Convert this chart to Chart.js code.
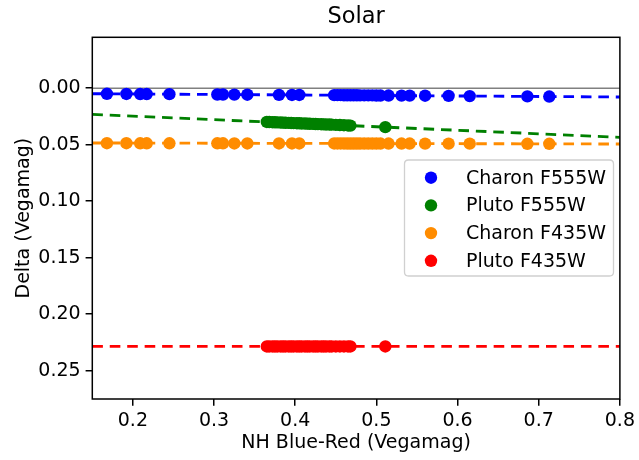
<!DOCTYPE html>
<html>
<head>
<meta charset="utf-8">
<script src="https://cdn.jsdelivr.net/npm/chart.js@4.4.0/dist/chart.umd.min.js"></script>
<style>
  html, body { margin: 0; padding: 0; background: #fff; }
  #wrap { width: 639px; height: 460px; position: relative; }
</style>
</head>
<body>
<div id="wrap"><canvas id="c" width="639" height="460"></canvas></div>
<script>
// ---- data ----
const chartTitle = "Solar";
const xLabel = "NH Blue-Red (Vegamag)";
const yLabel = "Delta (Vegamag)";
const xTicks = [0.2, 0.3, 0.4, 0.5, 0.6, 0.7, 0.8];
const yTicks = [0.00, 0.05, 0.10, 0.15, 0.20, 0.25];
const xRange = [0.15, 0.8];
const yRange = [-0.045, 0.275];

const seriesNames = ["Charon F555W", "Pluto F555W", "Charon F435W", "Pluto F435W"];
const seriesColors = ["#0000ff", "#008000", "#ff8c00", "#ff0000"];

const charonX = [0.168, 0.192, 0.209, 0.217, 0.245, 0.304, 0.311, 0.325, 0.341, 0.380, 0.396, 0.405,
  0.448, 0.452, 0.456, 0.460, 0.464, 0.468, 0.472, 0.476, 0.480, 0.485, 0.490, 0.495, 0.500, 0.505,
  0.515, 0.531, 0.541, 0.560, 0.589, 0.615, 0.686, 0.713];
const charonF555W = [0.0050, 0.0051, 0.0052, 0.0052, 0.0053, 0.0056, 0.0056, 0.0057, 0.0058, 0.0059, 0.0060, 0.0060,
  0.0062, 0.0062, 0.0062, 0.0063, 0.0063, 0.0063, 0.0063, 0.0063, 0.0064, 0.0064, 0.0064, 0.0064, 0.0065, 0.0065,
  0.0065, 0.0066, 0.0066, 0.0067, 0.0068, 0.0070, 0.0073, 0.0074];
const charonF435W = [0.0487, 0.0487, 0.0488, 0.0488, 0.0488, 0.0488, 0.0488, 0.0489, 0.0489, 0.0489, 0.0489, 0.0489,
  0.0489, 0.0489, 0.0489, 0.0489, 0.0490, 0.0490, 0.0490, 0.0490, 0.0490, 0.0490, 0.0490, 0.0490, 0.0490, 0.0490,
  0.0490, 0.0490, 0.0490, 0.0491, 0.0491, 0.0491, 0.0492, 0.0492];

const plutoX = [0.365, 0.368, 0.372, 0.375, 0.378, 0.382, 0.385, 0.388, 0.392, 0.395, 0.398, 0.402, 0.405,
  0.408, 0.412, 0.415, 0.418, 0.422, 0.425, 0.428, 0.432, 0.435, 0.438, 0.442, 0.445, 0.450, 0.455, 0.460,
  0.465, 0.468, 0.511];
const plutoF555W = [0.0299, 0.0300, 0.0301, 0.0302, 0.0303, 0.0304, 0.0305, 0.0306, 0.0307, 0.0308, 0.0309,
  0.0310, 0.0311, 0.0312, 0.0313, 0.0314, 0.0315, 0.0316, 0.0317, 0.0318, 0.0319, 0.0320, 0.0321, 0.0322,
  0.0323, 0.0325, 0.0326, 0.0328, 0.0330, 0.0331, 0.0345];
const plutoF435W = [0.2285, 0.2285, 0.2285, 0.2285, 0.2285, 0.2285, 0.2285, 0.2285, 0.2285, 0.2285, 0.2285,
  0.2285, 0.2285, 0.2285, 0.2285, 0.2285, 0.2285, 0.2285, 0.2285, 0.2285, 0.2285, 0.2285, 0.2285, 0.2285,
  0.2285, 0.2285, 0.2285, 0.2285, 0.2285, 0.2285, 0.2285];

// dashed fit lines (values at the two ends of the x range)
const fitX = [0.15, 0.8];
const charonF555Fit = [0.0049, 0.0078];
const plutoF555Fit = [0.0232, 0.0435];
const charonF435Fit = [0.0485, 0.0494];
const plutoF435Fit = [0.2285, 0.2285];
const zeroLine = [0.0, 0.0];

// ---- build ----
const zip = (xs, ys) => xs.map((x, i) => ({ x: x, y: ys[i] }));
const FONT = "'DejaVu Sans', sans-serif";
const pts = [zip(charonX, charonF555W), zip(plutoX, plutoF555W), zip(charonX, charonF435W), zip(plutoX, plutoF435W)];
const fits = [charonF555Fit, plutoF555Fit, charonF435Fit, plutoF435Fit];
const MR = 6.2;

const datasets = [];
datasets.push({
  type: 'line', label: '_zero', data: zip(fitX, zeroLine),
  borderColor: '#808080', borderWidth: 1.5, pointRadius: 0, order: 10, isLegend: false
});
for (let i = 0; i < 4; i++) {
  datasets.push({
    type: 'scatter', label: seriesNames[i], data: pts[i],
    backgroundColor: seriesColors[i], borderColor: seriesColors[i], borderWidth: 0,
    pointRadius: MR, pointHoverRadius: MR, order: 9 - i * 2, isLegend: true
  });
}
for (let i = 0; i < 4; i++) {
  datasets.push({
    type: 'line', label: '_fit' + i, data: zip(fitX, fits[i]),
    borderColor: seriesColors[i], borderWidth: 2.85, borderDash: [10.6, 6.85],
    pointRadius: 0, order: 8 - i * 2, isLegend: false
  });
}

const framePlugin = {
  id: 'frame',
  afterDraw(chart) {
    const { ctx, chartArea: a } = chart;
    ctx.save();
    // frame
    ctx.strokeStyle = '#000';
    ctx.lineWidth = 1.5;
    ctx.strokeRect(a.left, a.top, a.right - a.left, a.bottom - a.top);
    // title
    ctx.fillStyle = '#000';
    ctx.font = '22.5px ' + FONT;
    ctx.textAlign = 'center';
    ctx.textBaseline = 'middle';
    ctx.fillText(chartTitle, (a.left + a.right) / 2, 17.5);
    // legend
    const lx = 404.5, ly = 160, lw = 209, lh = 116, r = 4;
    ctx.beginPath();
    ctx.moveTo(lx + r, ly);
    ctx.lineTo(lx + lw - r, ly); ctx.quadraticCurveTo(lx + lw, ly, lx + lw, ly + r);
    ctx.lineTo(lx + lw, ly + lh - r); ctx.quadraticCurveTo(lx + lw, ly + lh, lx + lw - r, ly + lh);
    ctx.lineTo(lx + r, ly + lh); ctx.quadraticCurveTo(lx, ly + lh, lx, ly + lh - r);
    ctx.lineTo(lx, ly + r); ctx.quadraticCurveTo(lx, ly, lx + r, ly);
    ctx.closePath();
    ctx.fillStyle = 'rgba(255,255,255,0.8)';
    ctx.fill();
    ctx.strokeStyle = '#d0d0d0';
    ctx.lineWidth = 1.3;
    ctx.stroke();
    ctx.font = '19px ' + FONT;
    ctx.textAlign = 'left';
    ctx.textBaseline = 'middle';
    const legendSets = chart.data.datasets.filter(d => d.isLegend);
    legendSets.forEach((d, i) => {
      const y = 177.7 + i * 27.7;
      ctx.beginPath();
      ctx.arc(431, y, MR, 0, Math.PI * 2);
      ctx.fillStyle = d.backgroundColor;
      ctx.fill();
      ctx.fillStyle = '#000';
      ctx.fillText(d.label, 466, y + 1);
    });
    ctx.restore();
  }
};

new Chart(document.getElementById('c'), {
  data: { datasets: datasets },
  options: {
    responsive: false,
    animation: false,
    events: [],
    layout: { padding: { left: 0, right: 16.3, top: 37.3, bottom: 0 } },
    plugins: { legend: { display: false }, tooltip: { enabled: false }, title: { display: false } },
    scales: {
      x: {
        type: 'linear', min: xRange[0], max: xRange[1],
        afterBuildTicks: s => { s.ticks = xTicks.map(v => ({ value: v })); },
        afterFit: s => { s.height = 61; },
        ticks: { callback: v => v.toFixed(1), color: '#000', font: { family: FONT, size: 19 }, padding: 4, maxRotation: 0 },
        grid: { display: true, drawOnChartArea: false, drawTicks: true, tickLength: 6.7, color: '#000', lineWidth: 1.5 },
        border: { display: false },
        title: { display: true, text: xLabel, color: '#000', font: { family: FONT, size: 19 }, padding: { top: 0, bottom: 6 } }
      },
      y: {
        type: 'linear', reverse: true, min: yRange[0], max: yRange[1],
        afterBuildTicks: s => { s.ticks = yTicks.map(v => ({ value: v })); },
        afterFit: s => { s.width = 92.3; },
        ticks: { callback: v => v.toFixed(2), color: '#000', font: { family: FONT, size: 19 }, padding: 5 },
        grid: { display: true, drawOnChartArea: false, drawTicks: true, tickLength: 6.7, color: '#000', lineWidth: 1.5 },
        border: { display: false },
        title: { display: true, text: yLabel, color: '#000', font: { family: FONT, size: 19 }, padding: { top: 13, bottom: 0 } }
      }
    }
  },
  plugins: [framePlugin]
});
</script>
</body>
</html>
